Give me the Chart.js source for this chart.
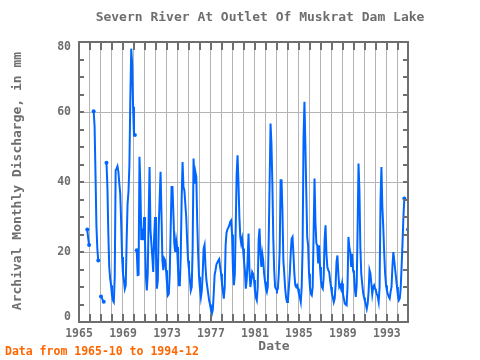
<!DOCTYPE html>
<html>
<head>
<meta charset="utf-8">
<script src="https://cdn.jsdelivr.net/npm/chart.js@4"></script>
<style>
  html, body { margin: 0; padding: 0; background: #fff; }
  canvas { display: block; }
</style>
</head>
<body>
<canvas id="chart" width="480" height="360"></canvas>
<script>
const title = "Severn River At Outlet Of Muskrat Dam Lake";
const yTitle = "Archival Monthly Discharge, in mm";
const xTitle = "Date";
const note = "Data from 1965-10 to 1994-12";

const firstYear = 1965;
const firstMonth = 10;
// monthly discharge in mm, one row per year, null = missing month
const discharge = [
  26.4, 24, 22,
  null, null, null, null, 60.2, 56, 42.4, 27.6, 21, 17.6, null, null,
  7.3, 6.9, 6.2, 5.8, null, null, 45.5, 38.6, 25.3, 15.7, 12.4, 10.5,
  7.6, 6.2, 5.7, 12.9, 43.4, 43.8, 44.5, 42.9, 39.5, 36.7, 28.6, 18.6,
  13.8, 11.9, 9.5, 10.5, 23.4, 33.8, 37.2, 44.8, 63.8, 78.1, 73.8, 61.5,
  53.4, 53.4, null, 20.5, 13.4, 13.5, 47.2, 38.6, 23.4, 26.7, 23.4, 30,
  23.4, 12.9, 9, 13.8, 30, 44.3, 26.2, 22.4, 18.6, 14.3, 24.3, 30,
  19.5, 9.5, 11.9, 27.2, 35, 42.9, 31, 17.6, 14.8, 18.1, 17.6, 14.8,
  11, 7.6, 8, 13.8, 26.2, 38.6, 38.6, 31, 22.4, 20, 23.4, 21.4,
  15.7, 10.5, 10.5, 18.6, 35, 45.7, 38.6, 37.6, 33.8, 30, 23.4, 17.6,
  15, 12, 9, 10, 21, 46.7, 39.5, 42.9, 41.5, 28.6, 19.5, 12.9,
  9.5, 7, 9, 14, 21, 22, 16, 12, 10, 8.1, 6.2, 5,
  3.5, 2.4, 3.5, 8, 13.5, 14.8, 16.5, 17, 17.6, 18, 15.7, 13.8,
  11, 9, 6.7, 10, 22, 25.5, 26.5, 27, 27.6, 28.6, 29, 25,
  15, 10.5, 13.5, 27, 42, 47.6, 40, 30, 24.3, 22.4, 23.8, 21,
  17.6, 14.8, 9.5, 12, 17.6, 25.3, 14.8, 10, 12, 14.3, 13.8, 12,
  9, 7, 6.2, 10, 23.4, 26.7, 19.5, 15.7, 19.5, 17.6, 13.8, 11.5,
  9.5, 8.6, 10, 23.4, 39.5, 56.7, 51, 39.5, 23.8, 14.8, 10, 9.5,
  9, 9.5, 13.8, 20.5, 40.5, 40.5, 31.5, 17.6, 13.8, 9.5, 7, 5.7,
  6.2, 10, 13.8, 19.5, 23.8, 24.3, 19.5, 13.8, 10.5, 10, 10.5, 9.5,
  8, 7, 5.7, 10, 21.4, 52.4, 62.9, 51, 37.2, 24.3, 21.9, 13.8,
  10, 8, 7.6, 10, 25.3, 41, 28.6, 22.4, 21.9, 16.7, 21.9, 15.7,
  11.9, 10, 9.5, 12.9, 23.4, 27.6, 19.5, 15.7, 14.8, 14.3, 11.9, 10,
  8.1, 7, 5.7, 6.7, 10.5, 17.2, 19, 13.8, 10, 10.5, 9.5, 11,
  8.1, 6.7, 5.3, 5, 4.8, 10, 24.3, 21.4, 20, 15.7, 19.5, 14.8,
  13.8, 9.5, 7.2, 10.5, 26.2, 45.3, 37.6, 21.4, 13.8, 11, 8.5, 7,
  6, 5, 3.8, 5.3, 8.6, 14.8, 13.8, 11, 8, 10, 10.5, 9.5,
  9, 8, 7.2, 5.7, 10, 34.8, 44.3, 32.9, 27.2, 20, 14, 10.5,
  9, 8, 7.2, 6.7, 8.6, 10, 15.7, 20, 17.6, 15, 12.5, 10,
  7.5, 6.2, 6.7, 9.5, 15.7, 22.4, 30, 35.3, null, null, null, 26.4
];
const labelYears = [1965, 1969, 1973, 1977, 1981, 1985, 1989, 1993];
const yTicks = [0, 20, 40, 60, 80];

const mono = "'DejaVu Sans Mono', monospace";
const gray = "#6e6e6e";

const points = discharge.map((v, i) => ({
  x: firstYear + (firstMonth - 1 + i) / 12,
  y: v
}));

// small dot where a run of data starts or stops
function endDot(c) {
  const i = c.dataIndex;
  if (discharge[i] == null) return 0;
  return (discharge[i - 1] == null || discharge[i + 1] == null) ? 2 : 0;
}

const frame = {
  id: "frame",
  afterDraw(chart) {
    const { ctx, chartArea: a, scales: { x, y } } = chart;
    ctx.save();
    ctx.strokeStyle = gray;
    ctx.lineWidth = 2;
    ctx.beginPath();
    for (let yr = firstYear; yr <= x.max; yr++) {
      const px = Math.round(x.getPixelForValue(yr));
      ctx.moveTo(px, a.top); ctx.lineTo(px, a.top + 8);
      ctx.moveTo(px, a.bottom); ctx.lineTo(px, a.bottom - 8);
    }
    for (let v = 5; v < y.max; v += 5) {
      const py = Math.round(y.getPixelForValue(v));
      ctx.moveTo(a.left, py); ctx.lineTo(a.left + 5, py);
      ctx.moveTo(a.right, py); ctx.lineTo(a.right - 5, py);
    }
    ctx.stroke();
    ctx.strokeRect(a.left, a.top, a.right - a.left, a.bottom - a.top);

    ctx.fillStyle = gray;
    ctx.textAlign = "center";
    ctx.textBaseline = "middle";
    ctx.font = "bold 13px " + mono;
    ctx.fillText(title, 260, 18);
    ctx.fillText(xTitle, 274, 347);
    ctx.save();
    ctx.translate(18, 181);
    ctx.rotate(-Math.PI / 2);
    ctx.fillText(yTitle, 0, 0);
    ctx.restore();

    ctx.fillStyle = "#ff6600";
    ctx.textAlign = "left";
    ctx.font = "bold 11.5px " + mono;
    ctx.fillText(note, 5, 352);
    ctx.restore();
  }
};

new Chart(document.getElementById("chart"), {
  type: "line",
  data: {
    datasets: [{
      data: points,
      borderColor: "#0066ff",
      backgroundColor: "#0066ff",
      borderWidth: 2,
      pointRadius: endDot,
      pointBorderWidth: 0,
      tension: 0,
      spanGaps: false
    }]
  },
  options: {
    responsive: false,
    animation: false,
    devicePixelRatio: 1,
    layout: { padding: { top: 42, right: 72, bottom: 0, left: 0 } },
    plugins: { legend: { display: false }, tooltip: { enabled: false }, title: { display: false } },
    scales: {
      x: {
        type: "linear",
        min: firstYear,
        max: 1994 + 11 / 12,
        afterFit: s => { s.height = 38; },
        grid: { color: "#b4b4b4", lineWidth: 1, drawTicks: false },
        border: { display: false },
        ticks: {
          stepSize: 1,
          autoSkip: false,
          maxRotation: 0,
          includeBounds: false,
          padding: 5,
          color: gray,
          font: { family: mono, size: 11.5, weight: "bold" },
          callback: v => labelYears.includes(v) ? String(v) : ""
        }
      },
      y: {
        min: yTicks[0],
        max: yTicks[yTicks.length - 1],
        afterFit: s => { s.width = 79; },
        grid: { color: "#b4b4b4", lineWidth: 1, drawTicks: false },
        border: { display: false },
        ticks: {
          stepSize: 20,
          padding: 8,
          color: gray,
          font: { family: mono, size: 11.5, weight: "bold", lineHeight: "10px" },
          // keep the end labels inside the frame
          callback: v => v === yTicks[0] ? [String(v), ""] :
                         v === yTicks[yTicks.length - 1] ? ["", String(v)] : String(v)
        }
      }
    }
  },
  plugins: [frame]
});
</script>
</body>
</html>
